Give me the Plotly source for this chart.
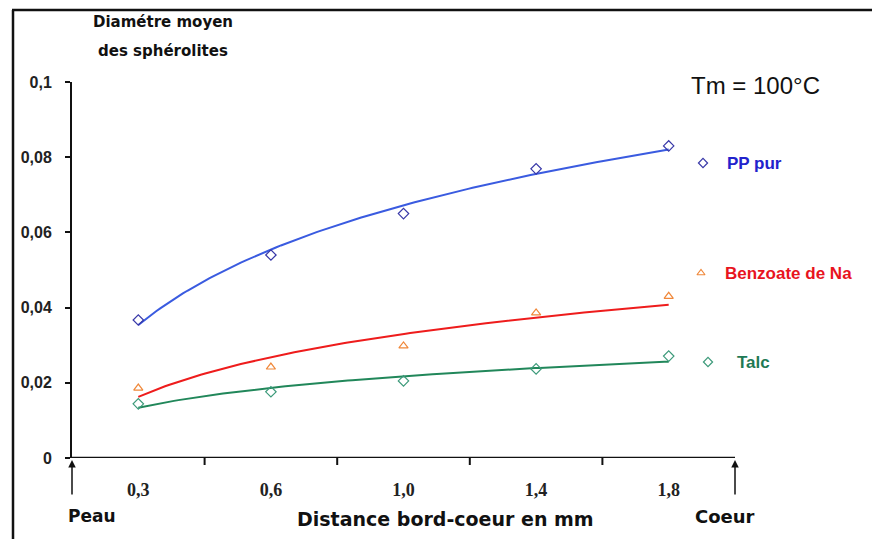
import numpy as np
import plotly.graph_objects as go

categories = ["0,3", "0,6", "1,0", "1,4", "1,8"]
pp_pur = [0.0367, 0.054, 0.065, 0.0769, 0.083]
benzoate = [0.0186, 0.0242, 0.0298, 0.0386, 0.043]
talc = [0.0144, 0.0176, 0.0205, 0.0237, 0.0271]
y_ticks = [0, 0.02, 0.04, 0.06, 0.08, 0.1]
y_tick_labels = ["0", "0,02", "0,04", "0,06", "0,08", "0,1"]

x_idx = np.arange(1, len(categories) + 1)

def log_fit(vals):
    a, b = np.polyfit(np.log(x_idx), vals, 1)
    xs = np.linspace(1, len(categories), 120)
    return xs, a * np.log(xs) + b

series = [
    ("PP pur", pp_pur, "#3a5be0", "diamond-open", "#3838a8"),
    ("Benzoate de Na", benzoate, "#ee1c1c", "triangle-up-open", "#f0883a"),
    ("Talc", talc, "#21875a", "diamond-open", "#3c9a7a"),
]

fig = go.Figure()
for name, vals, lc, sym, mc in series:
    xs, ys = log_fit(np.array(vals))
    fig.add_trace(go.Scatter(x=xs, y=ys, mode="lines", line=dict(color=lc, width=2),
                             showlegend=False, hoverinfo="skip"))
    fig.add_trace(go.Scatter(x=x_idx, y=vals, mode="markers", name=name,
                             marker=dict(symbol=sym, size=8, color=mc, line=dict(width=1.2, color=mc)),
                             showlegend=False))

# Pixel helpers: plot area spans px 72..735 horizontally, 82..458 vertically
L, R, T, B = 72, 735, 82, 458
def px(xp):
    return (xp - L) / (R - L)
def py(yp):
    return (B - yp) / (B - T)

BOLD = "DejaVu Sans"

fig.update_layout(
    width=872, height=539,
    margin=dict(l=L, r=872 - R, t=T, b=539 - B),
    paper_bgcolor="white", plot_bgcolor="white",
    font=dict(family="Liberation Sans, Arial", color="#111"),
    xaxis=dict(range=[0.5, len(categories) + 0.5], tickvals=list(x_idx), ticktext=categories,
               showgrid=False, zeroline=False, showline=False, ticks="",
               tickfont=dict(family="Liberation Serif", size=18, color="#222", weight="bold"),
               ticklabelstandoff=19),
    yaxis=dict(range=[0, 0.1], tickvals=y_ticks, ticktext=y_tick_labels,
               showgrid=False, zeroline=False, showline=True, linecolor="#111", linewidth=2,
               ticks="outside", ticklen=5, tickwidth=2, tickcolor="#111",
               tickfont=dict(family="Liberation Sans", size=16, color="#222", weight="bold"),
               ticklabelstandoff=10),
)

shapes = []
shapes.append(dict(type="line", xref="x", yref="y", x0=0.5, x1=len(categories) + 0.5, y0=0, y1=0,
                   line=dict(color="#111", width=2.5)))
for i in range(1, len(categories)):
    shapes.append(dict(type="line", xref="x", yref="paper", x0=i + 0.5, x1=i + 0.5,
                       y0=py(458), y1=py(465), line=dict(color="#111", width=2)))
shapes.append(dict(type="line", xref="paper", yref="paper", x0=px(13), x1=px(13), y0=py(10), y1=py(545),
                   line=dict(color="#111", width=2.5)))
shapes.append(dict(type="line", xref="paper", yref="paper", x0=px(12), x1=px(875), y0=py(10), y1=py(10),
                   line=dict(color="#111", width=2.5)))
fig.update_layout(shapes=shapes)

def txt(x, y, text, size, family=BOLD, color="#111", xanchor="left"):
    return dict(x=px(x), y=py(y), xref="paper", yref="paper", text=text, showarrow=False,
                xanchor=xanchor, yanchor="middle", font=dict(family=family, size=size, color=color))

ann = []
for xv in [0.5, len(categories) + 0.5]:
    ann.append(dict(x=xv, y=0, xref="x", yref="y", text="", showarrow=True, arrowhead=2,
                    arrowsize=1, arrowwidth=1.5, arrowcolor="#111", ax=0, ay=38, standoff=2))
ann += [
    txt(66, 516, "<b>Peau</b>", 17),
    txt(693, 516, "<b>Coeur</b>", 18),
    txt(445, 519, "<b>Distance bord-coeur en mm</b>", 19, xanchor="center"),
    txt(163, 22, "<b>Diamétre moyen</b>", 15, xanchor="center"),
    txt(163, 51, "<b>des sphérolites</b>", 15, xanchor="center"),
    txt(689, 86, "Tm = 100°C", 24, family="Liberation Sans, Arial"),
]
legend_items = [
    ("PP pur", 703, 163, 725, "diamond-open", "#3838a8", "#2222cc"),
    ("Benzoate de Na", 701, 273, 723, "triangle-up-open", "#f0883a", "#e8141e"),
    ("Talc", 708, 362, 735, "diamond-open", "#3c9a7a", "#1f7a55"),
]
for name, mx, my, tx, sym, mc, tc in legend_items:
    ann.append(txt(tx, my, "<b>" + name + "</b>", 17, family="Liberation Sans, Arial", color=tc))
    fig.add_trace(go.Scatter(x=[(mx - L) / (R - L) * len(categories) + 0.5],
                             y=[(B - my) / (B - T) * 0.1], mode="markers", showlegend=False,
                             marker=dict(symbol=sym, size=7, color=mc, line=dict(width=1.2, color=mc)),
                             cliponaxis=False, hoverinfo="skip"))
fig.update_layout(annotations=ann)

fig.write_html("out.html", config={"displayModeBar": False},
               post_script="document.body.style.margin='0px';")
